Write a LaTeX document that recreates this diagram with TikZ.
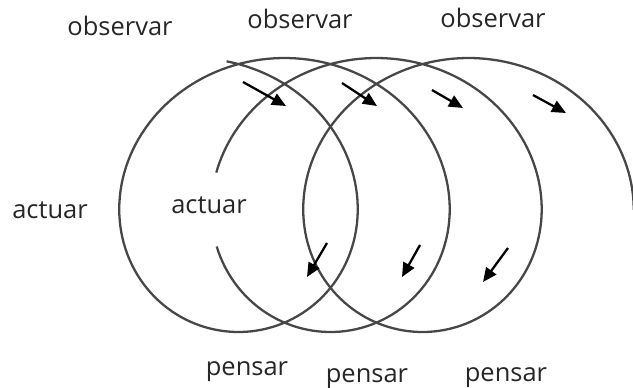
\documentclass[tikz,border=0pt]{standalone}
\usepackage{fontspec}
\setsansfont{Open Sans}
\usetikzlibrary{arrows.meta}

\begin{document}
\begin{tikzpicture}[x=0.02cm, y=-0.02cm,
    lazo/.style={black!72, line width=1.3pt},
    flecha/.style={line width=1.3pt, -{Triangle[length=8pt, width=7pt]}},
    rotulo/.style={font=\sffamily\fontsize{14.5}{16}\selectfont, text=black!85,
      inner sep=0pt, anchor=base}]
  \useasboundingbox (0,0) rectangle (633,387);

  % the spiral, four turns, broken where the inner label sits
  \draw[lazo] plot[domain=0.22:10.61, samples=240, variable=\t]
    ({192.5+14.64*\t+141.5*sin(\t r)}, {195-137*cos(\t r)});
  \draw[lazo] plot[domain=11.16:20.53, samples=240, variable=\t]
    ({192.5+14.64*\t+141.5*sin(\t r)}, {195-137*cos(\t r)});

  % direction arrows
  \foreach \xa/\ya/\xb/\yb in {243/82/286/106, 342/83/377/106, 432/90/463/108,
      533/95/566/113, 327/243/307/277, 420/245/402/277, 508/248/483/282}
    \draw[flecha] (\xa,\ya) -- (\xb,\yb);

  \node[rotulo] (obs1) at (120,35) {observar};
  \node[rotulo] (obs2) at (300,28) {observar};
  \node[rotulo] (obs3) at (493,27) {observar};
  \node[rotulo] (act1) at (50,218) {actuar};
  \node[rotulo] (act2) at (209,213) {actuar};
  \node[rotulo] (pen1) at (247,375) {pensar};
  \node[rotulo] (pen2) at (367,382) {pensar};
  \node[rotulo] (pen3) at (506,381) {pensar};
\end{tikzpicture}
\end{document}
